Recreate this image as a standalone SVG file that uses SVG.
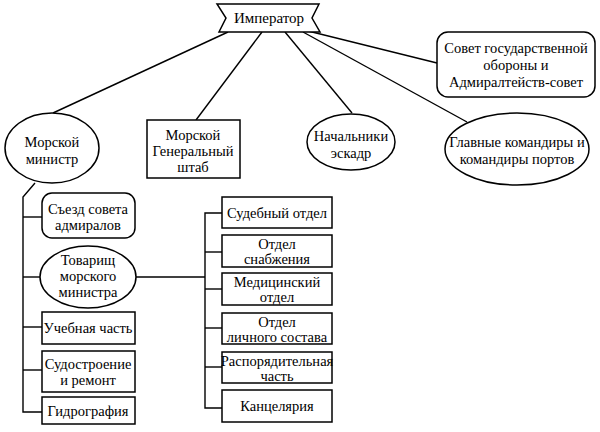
<svg xmlns="http://www.w3.org/2000/svg" width="600" height="432" viewBox="0 0 600 432">
<rect width="600" height="432" fill="#fff"/>
<g id="connectors" fill="none" stroke="#000" stroke-width="1.4">
<line x1="228" y1="32" x2="53" y2="113"/>
<line x1="262" y1="32" x2="196" y2="120"/>
<line x1="285" y1="32" x2="352" y2="113"/>
<line x1="300" y1="29" x2="437" y2="63"/>
<line x1="303" y1="32" x2="467" y2="122"/>
<polyline points="35,183 23,197 23,412 42,412"/>
<line x1="23" y1="217" x2="42" y2="217"/>
<line x1="23" y1="277" x2="40" y2="277"/>
<line x1="23" y1="327" x2="42" y2="327"/>
<line x1="23" y1="370" x2="42" y2="370"/>
<line x1="136" y1="277" x2="205" y2="277"/>
<polyline points="222,213 205,213 205,408 222,408"/>
<line x1="205" y1="252" x2="222" y2="252"/>
<line x1="205" y1="289" x2="222" y2="289"/>
<line x1="205" y1="328" x2="222" y2="328"/>
<line x1="205" y1="367" x2="222" y2="367"/>
</g>
<g id="nodes" fill="#fff" stroke="#000" stroke-width="1.5">
<g id="emperor"><polygon points="217,4 319,4 312,18 320,32 219,32 226,18"/></g>
<g id="sovet"><rect x="437" y="32" width="158" height="65" rx="11"/></g>
<g id="minister"><ellipse cx="52" cy="148" rx="47" ry="35"/></g>
<g id="genshtab"><rect x="147" y="120" width="93" height="58"/></g>
<g id="eskadr"><ellipse cx="351" cy="142" rx="44" ry="28"/></g>
<g id="glavnye"><ellipse cx="517" cy="149" rx="72" ry="36"/></g>
<g id="sezd"><rect x="42" y="193" width="93" height="45" rx="10"/></g>
<g id="tovarisch"><ellipse cx="88" cy="277" rx="48" ry="31"/></g>
<g id="uchebnaya"><rect x="42" y="312" width="93" height="32"/></g>
<g id="sudostroenie"><rect x="42" y="351" width="93" height="41"/></g>
<g id="gidrografiya"><rect x="42" y="397" width="93" height="27"/></g>
<g id="sudebny"><rect x="222" y="197" width="110" height="31"/></g>
<g id="snabzhenie"><rect x="222" y="235" width="110" height="32"/></g>
<g id="medicinsky"><rect x="222" y="273" width="110" height="32"/></g>
<g id="lichny"><rect x="222" y="313" width="110" height="31"/></g>
<g id="rasporyad"><rect x="222" y="352" width="110" height="31"/></g>
<g id="kancelyariya"><rect x="222" y="390" width="110" height="32"/></g>
</g>
<g id="labels" style="font-family:Times New Roman,serif;font-size:14.5px;text-anchor:middle" fill="#000">
<text x="269" y="23" style="font-size:15px">Император</text>
<text x="516" y="53">Совет государственной</text><text x="516" y="70">обороны и</text><text x="516" y="87">Адмиралтейств-совет</text>
<text x="52" y="147">Морской</text><text x="52" y="164">министр</text>
<text x="193" y="140">Морской</text><text x="193" y="156">Генеральный</text><text x="193" y="172">штаб</text>
<text x="351" y="141">Начальники</text><text x="351" y="158">эскадр</text>
<text x="517" y="147">Главные командиры и</text><text x="517" y="164">командиры портов</text>
<text x="88" y="214">Съезд совета</text><text x="88" y="230">адмиралов</text>
<text x="88" y="265">Товарищ</text><text x="88" y="281">морского</text><text x="88" y="297">министра</text>
<text x="88" y="333">Учебная часть</text>
<text x="88" y="369">Судостроение</text><text x="88" y="385">и ремонт</text>
<text x="88" y="416">Гидрография</text>
<text x="277" y="218">Судебный отдел</text>
<text x="277" y="249">Отдел</text><text x="277" y="264">снабжения</text>
<text x="277" y="287">Медицинский</text><text x="277" y="302">отдел</text>
<text x="277" y="327">Отдел</text><text x="277" y="342">личного состава</text>
<text x="277" y="366">Распорядительная</text><text x="277" y="381">часть</text>
<text x="277" y="411">Канцелярия</text>
</g>
</svg>
